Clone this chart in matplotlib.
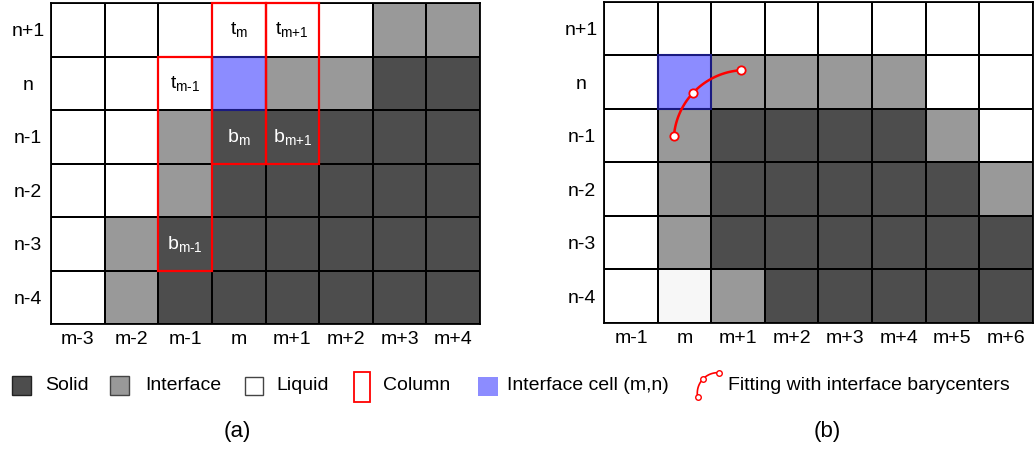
import matplotlib
matplotlib.use("Agg")
import matplotlib.pyplot as plt
import numpy as np
from matplotlib.colors import ListedColormap
from matplotlib.patches import Rectangle

plt.rcParams['font.family'] = ['Liberation Sans', 'DejaVu Sans']
plt.rcParams['mathtext.fontset'] = 'custom'
plt.rcParams['mathtext.rm'] = 'Liberation Sans'
plt.rcParams['mathtext.it'] = 'Liberation Sans'
plt.rcParams['mathtext.default'] = 'regular'

# cell states: L liquid, I interface, S solid, B interface cell (m,n), W faint cell
grid_a = ["LLLLLLII",
          "LLLBIISS",
          "LLISSSSS",
          "LLISSSSS",
          "LISSSSSS",
          "LISSSSSS"]
grid_b = ["LLLLLLLL",
          "LBIIIILL",
          "LISSSSIL",
          "LISSSSSI",
          "LISSSSSS",
          "LWISSSSS"]
rows = ["n+1", "n", "n-1", "n-2", "n-3", "n-4"]
cols_a = ["m-3", "m-2", "m-1", "m", "m+1", "m+2", "m+3", "m+4"]
cols_b = ["m-1", "m", "m+1", "m+2", "m+3", "m+4", "m+5", "m+6"]

# red columns in (a): (column label, top row, bottom row)
columns_a = [("m-1", "n", "n-3"), ("m", "n+1", "n-1"), ("m+1", "n+1", "n-1")]
# cell text in (a): (column, row, text, colour)
cell_text = [("m", "n+1", r"$t_{\text{m}}$", "black"),
             ("m+1", "n+1", r"$t_{\text{m+1}}$", "black"),
             ("m-1", "n", r"$t_{\text{m-1}}$", "black"),
             ("m", "n-1", r"$b_{\text{m}}$", "white"),
             ("m+1", "n-1", r"$b_{\text{m+1}}$", "white"),
             ("m-1", "n-3", r"$b_{\text{m-1}}$", "white")]
# interface barycenters in (b), in cell units (x from left, y from bottom)
bary_x = [1.30, 1.66, 2.55]
bary_y = [3.49, 4.30, 4.72]

state_code = {"L": 0, "I": 1, "S": 2, "B": 3, "W": 4}
cmap = ListedColormap(["white", "#999999", "#4d4d4d", "#8c8cff", "#f7f7f7"])

W, H = 1036, 451
fig = plt.figure(figsize=(W / 100, H / 100), dpi=100)

def draw_grid(ax, grid, cols):
    nr = len(grid)
    codes = np.array([[state_code[c] for c in r] for r in grid[::-1]])
    ax.pcolormesh(np.arange(len(cols) + 1), np.arange(nr + 1), codes, cmap=cmap,
                  vmin=-0.5, vmax=4.5, edgecolors="black", linewidth=1.1)
    for r, line in enumerate(grid):
        for c, ch in enumerate(line):
            if ch == "B":
                ax.add_patch(Rectangle((c, nr - 1 - r), 1, 1, fill=False,
                                       edgecolor="#1a1a80", lw=1.5, zorder=3))
    ax.set_xlim(0, len(cols))
    ax.set_ylim(0, nr)
    ax.set_xticks(np.arange(len(cols)) + 0.5)
    ax.set_xticklabels(cols, fontsize=14)
    ax.set_yticks(np.arange(nr) + 0.5)
    ax.set_yticklabels(rows[::-1], fontsize=14, ha="center")
    ax.tick_params(length=0)
    ax.tick_params(axis="x", pad=5)
    ax.tick_params(axis="y", pad=16.5)
    for s in ax.spines.values():
        s.set_linewidth(1.3)

ax1 = fig.add_axes([51 / W, (H - 324) / H, 429 / W, 321 / H])
draw_grid(ax1, grid_a, cols_a)
for col, top, bot in columns_a:
    x = cols_a.index(col)
    y0 = len(rows) - 1 - rows.index(bot)
    h = rows.index(bot) - rows.index(top) + 1
    ax1.add_patch(Rectangle((x, y0), 1, h, fill=False, edgecolor="#ff0000",
                            lw=1.6, zorder=4, clip_on=False))
for col, row, txt, colr in cell_text:
    ax1.text(cols_a.index(col) + 0.5, len(rows) - 0.5 - rows.index(row), txt,
             color=colr, fontsize=14, ha="center", va="center", zorder=5)

ax2 = fig.add_axes([604.3 / W, (H - 323) / H, 428.3 / W, 321.3 / H])
draw_grid(ax2, grid_b, cols_b)

# circle arc through three points, passing the middle one
def circle_arc(px, py, n=60):
    (x1, x2, x3), (y1, y2, y3) = px, py
    A = np.array([[x2 - x1, y2 - y1], [x3 - x1, y3 - y1]]) * 2
    b = np.array([x2**2 - x1**2 + y2**2 - y1**2, x3**2 - x1**2 + y3**2 - y1**2])
    cx, cy = np.linalg.solve(A, b)
    r = np.hypot(x1 - cx, y1 - cy)
    a1 = np.arctan2(y1 - cy, x1 - cx)
    a2 = np.arctan2(y2 - cy, x2 - cx)
    a3 = np.arctan2(y3 - cy, x3 - cx)
    d2 = (a2 - a1) % (2 * np.pi)
    d3 = (a3 - a1) % (2 * np.pi)
    if d2 > d3:
        d3 = d3 - 2 * np.pi
    t = a1 + np.linspace(0, d3, n)
    return cx + r * np.cos(t), cy + r * np.sin(t)

ax_x, ax_y = circle_arc(bary_x, bary_y)
ax2.plot(ax_x, ax_y, color="#ff0000", lw=1.8, zorder=5)
ax2.plot(bary_x, bary_y, "o", ms=6, mfc="white", mec="#ff0000", mew=1.3, zorder=6)

# legend and captions, drawn in pixel coordinates
lg = fig.add_axes([0, 0, 1, 1])
lg.set_xlim(0, W)
lg.set_ylim(H, 0)
lg.axis("off")
lg.add_patch(Rectangle((12, 376), 19, 19, facecolor="#4d4d4d", edgecolor="#222222", lw=1))
lg.add_patch(Rectangle((110, 376), 19, 19, facecolor="#999999", edgecolor="#444444", lw=1))
lg.add_patch(Rectangle((245, 377), 18, 18, facecolor="white", edgecolor="#444444", lw=1))
lg.add_patch(Rectangle((354, 372), 16, 30, facecolor="none", edgecolor="#ff0000", lw=1.3))
lg.add_patch(Rectangle((478, 377), 20, 19, facecolor="#8c8cff", edgecolor="none"))
icon_x = [697.7, 702.7, 719.0]
icon_y = [397.3, 379.3, 372.7]
ix, iy = circle_arc(icon_x, icon_y)
lg.plot(ix, iy, color="#ff0000", lw=1.2)
lg.plot(icon_x, icon_y, "o", ms=4, mfc="white", mec="#ff0000", mew=1)
for x, s in [(45, "Solid"), (145, "Interface"), (276, "Liquid"), (383, "Column"),
             (507, "Interface cell (m,n)"), (728, "Fitting with interface barycenters")]:
    lg.text(x, 386, s, fontsize=14, va="center", ha="left")
lg.text(237, 431, "(a)", fontsize=16, ha="center", va="center")
lg.text(827, 431, "(b)", fontsize=16, ha="center", va="center")

fig.savefig("out.png", dpi=100)
